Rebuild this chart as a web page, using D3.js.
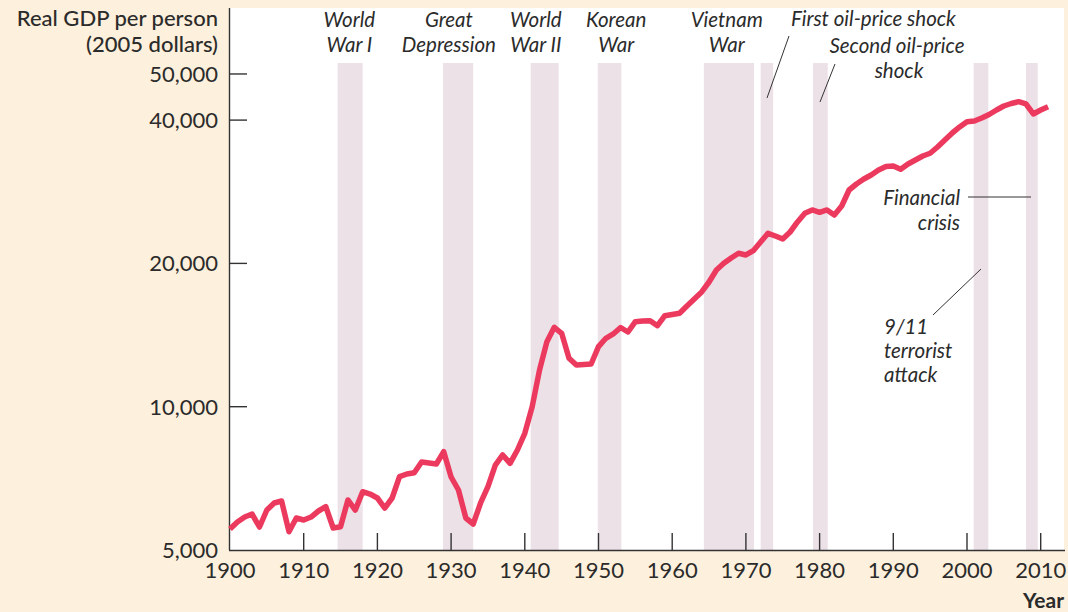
<!DOCTYPE html>
<html lang="en">
<head>
    <meta charset="UTF-8">
    <title>Real GDP per person, 1900-2011</title>
    <script src="https://d3js.org/d3.v7.min.js"></script>
    <style>
        body {
            margin: 0;
            background: #fdf0dc;
        }
        svg text {
            font-family: Lato, "Open Sans", sans-serif;
            fill: #2b2b2b;
        }
        .note {
            font-style: italic;
        }
    </style>
</head>
<body>
    <div id="chart"></div>

    <script>
        // Real GDP per person, 2005 dollars
        const years = d3.range(1900, 2012);
        const gdp = [
            5535, 5726, 5865, 5950, 5588, 6067, 6277, 6338, 5462, 5837,
            5781, 5865, 6038, 6164, 5561, 5597, 6368, 6067, 6629, 6555,
            6430, 6126, 6430, 7128, 7221, 7267, 7653, 7616, 7579, 8044,
            7117, 6683, 5837, 5670, 6277, 6791, 7542, 7917, 7605, 8110,
            8792, 10000, 11942, 13696, 14682, 14263, 12639, 12234, 12264, 12294,
            13368, 13922, 14215, 14668, 14353, 15085, 15136, 15160, 14797, 15530,
            15620, 15710, 16277, 16838, 17419, 18280, 19370, 20010, 20530, 21002,
            20830, 21270, 22180, 23135, 22835, 22505, 23280, 24435, 25485, 25895,
            25610, 25895, 25275, 26400, 28525, 29365, 30085, 30675, 31425, 31960,
            32035, 31530, 32350, 32985, 33630, 34070, 35125, 36335, 37580, 38690,
            39690, 39825, 40410, 41100, 42005, 42825, 43345, 43725, 43240, 41200,
            42005, 42680
        ];

        // shaded periods (start, end in years)
        const bandStart = [1914.6, 1928.9, 1940.8, 1949.9, 1964.3, 1972.0, 1979.1, 2000.9, 2008.0];
        const bandEnd   = [1918.0, 1933.0, 1944.6, 1953.1, 1971.1, 1973.7, 1981.1, 2002.9, 2009.6];

        // event labels above the bands
        const eventLines = [
            ["World", "War I"],
            ["Great", "Depression"],
            ["World", "War II"],
            ["Korean", "War"],
            ["Vietnam", "War"]
        ];
        const eventYears = [1916.2, 1929.7, 1941.5, 1952.4, 1967.4];

        const xTicks = d3.range(1900, 2011, 10);
        const yTicks = [5000, 10000, 20000, 40000, 50000];

        const width = 1068, height = 612;
        const plotLeft = 230, plotRight = 1064, plotTop = 8, plotBottom = 550;

        const svg = d3.select("#chart")
            .append("svg")
            .attr("width", width)
            .attr("height", height);

        const x = d3.scaleLinear().domain([1900, 2010]).range([230, 1040.7]);
        const y = d3.scaleLog().domain([5000, 80000]).range([plotBottom, plotBottom - 4 * 143.3]);

        // plot area
        svg.append("rect")
            .attr("x", plotLeft)
            .attr("y", plotTop)
            .attr("width", plotRight - plotLeft)
            .attr("height", plotBottom - plotTop)
            .attr("fill", "#fff");

        // shaded bands
        svg.append("g")
            .selectAll("rect")
            .data(bandStart)
            .enter()
            .append("rect")
            .attr("x", d => x(d))
            .attr("y", 63)
            .attr("width", (d, i) => x(bandEnd[i]) - x(d))
            .attr("height", plotBottom - 63)
            .attr("fill", "#ede1e8");

        // axes
        const axisColor = "#333";
        svg.append("line")
            .attr("x1", plotLeft - 0.5).attr("x2", plotLeft - 0.5)
            .attr("y1", plotTop).attr("y2", plotBottom)
            .attr("stroke", axisColor).attr("stroke-width", 1.4);
        svg.append("line")
            .attr("x1", plotLeft - 1).attr("x2", plotRight + 1)
            .attr("y1", plotBottom + 0.5).attr("y2", plotBottom + 0.5)
            .attr("stroke", axisColor).attr("stroke-width", 1.4);

        // x ticks (point up into the plot)
        svg.append("g")
            .selectAll("line")
            .data(xTicks.slice(1))
            .enter()
            .append("line")
            .attr("x1", d => x(d)).attr("x2", d => x(d))
            .attr("y1", plotBottom).attr("y2", plotBottom - 17)
            .attr("stroke", axisColor).attr("stroke-width", 1.4);

        svg.append("g")
            .selectAll("text")
            .data(xTicks)
            .enter()
            .append("text")
            .attr("x", d => x(d))
            .attr("y", 578)
            .attr("text-anchor", "middle")
            .attr("font-size", 22)
            .text(d => d);

        // y ticks (point right into the plot)
        svg.append("g")
            .selectAll("line")
            .data(yTicks.slice(1))
            .enter()
            .append("line")
            .attr("x1", plotLeft).attr("x2", plotLeft + 17)
            .attr("y1", d => y(d)).attr("y2", d => y(d))
            .attr("stroke", axisColor).attr("stroke-width", 1.4);

        svg.append("g")
            .selectAll("text")
            .data(yTicks)
            .enter()
            .append("text")
            .attr("x", 218)
            .attr("y", d => y(d) + 8)
            .attr("text-anchor", "end")
            .attr("font-size", 22)
            .text(d => d3.format(",")(d));

        // axis titles
        svg.append("text")
            .attr("x", 218).attr("y", 26)
            .attr("text-anchor", "end")
            .attr("font-size", 22)
            .attr("font-weight", 500)
            .text("Real GDP per person");
        svg.append("text")
            .attr("x", 218).attr("y", 52)
            .attr("text-anchor", "end")
            .attr("font-size", 22)
            .attr("font-weight", 500)
            .text("(2005 dollars)");
        svg.append("text")
            .attr("x", 1064).attr("y", 608)
            .attr("text-anchor", "end")
            .attr("font-size", 21)
            .attr("font-weight", 700)
            .text("Year");

        // the GDP line
        const line = d3.line()
            .x((d, i) => x(years[i]))
            .y(d => y(d));

        svg.append("path")
            .datum(gdp)
            .attr("d", line)
            .attr("fill", "none")
            .attr("stroke", "#ec3a5f")
            .attr("stroke-width", 5.5)
            .attr("stroke-linejoin", "round");

        // event labels
        const ev = svg.append("g");
        eventLines.forEach((lines, i) => {
            lines.forEach((t, j) => {
                ev.append("text")
                    .attr("class", "note")
                    .attr("x", x(eventYears[i]))
                    .attr("y", 27 + j * 25)
                    .attr("text-anchor", "middle")
                    .attr("font-size", 20.5)
                    .text(t);
            });
        });

        function note(tx, ty, anchor, t) {
            svg.append("text")
                .attr("class", "note")
                .attr("x", tx).attr("y", ty)
                .attr("text-anchor", anchor)
                .attr("font-size", 20.5)
                .text(t);
        }
        function leader(x1, y1, x2, y2) {
            svg.append("line")
                .attr("x1", x1).attr("y1", y1)
                .attr("x2", x2).attr("y2", y2)
                .attr("stroke", "#333").attr("stroke-width", 1);
        }

        note(791, 26, "start", "First oil-price shock");
        leader(789, 36, 767, 98);

        note(897, 53, "middle", "Second oil-price");
        note(899, 78, "middle", "shock");
        leader(835, 64, 820, 102);

        note(960, 205, "end", "Financial");
        note(960, 230, "end", "crisis");
        leader(968, 197, 1031, 197);

        note(884, 334, "start", "9/11");
        note(884, 358, "start", "terrorist");
        note(884, 382, "start", "attack");
        leader(933, 315, 981, 269);
    </script>
</body>
</html>
